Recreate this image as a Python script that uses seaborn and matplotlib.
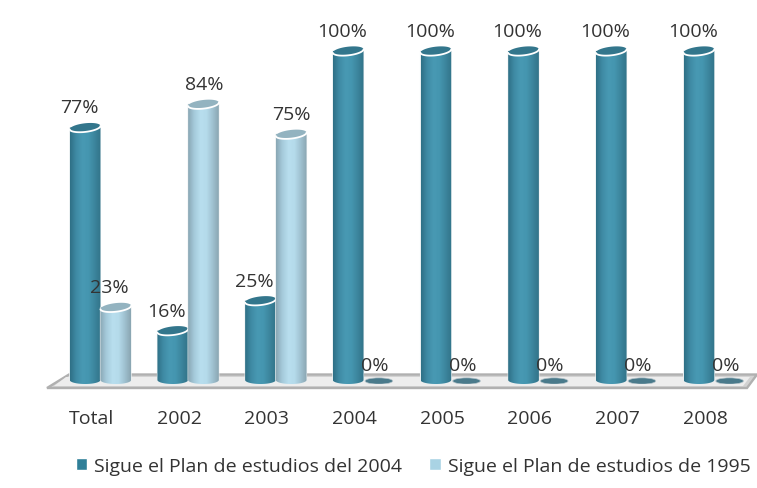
import numpy as np
import pandas as pd
import matplotlib
matplotlib.use("Agg")
import matplotlib.pyplot as plt
from matplotlib.patches import Ellipse, Patch, Polygon
from matplotlib.colors import LinearSegmentedColormap
from matplotlib.transforms import ScaledTranslation
import seaborn as sns

# Values
years = ["Total", "2002", "2003", "2004", "2005", "2006", "2007", "2008"]
plan_2004 = [77, 16, 25, 100, 100, 100, 100, 100]
plan_1995 = [23, 84, 75, 0, 0, 0, 0, 0]
name_2004 = "Sigue el Plan de estudios del 2004"
name_1995 = "Sigue el Plan de estudios de 1995"

W, H = 757, 489

sns.set_theme(style="white")
plt.rcParams["font.family"] = ["Open Sans", "DejaVu Sans"]

df = pd.DataFrame({"year": years, name_2004: plan_2004, name_1995: plan_1995})
long_df = df.melt(id_vars="year", var_name="plan", value_name="pct")

fig = plt.figure(figsize=(W / 100, H / 100), dpi=100, facecolor="white")
ax = fig.add_axes([56.6 / W, (H - 385) / H, 701.5 / W, 333 / H])
ax.patch.set_visible(False)

colors = {name_2004: "#4596b0", name_1995: "#b5dbeb"}
sns.barplot(data=long_df, x="year", y="pct", hue="plan", palette=colors,
            width=0.7, saturation=1, legend=False, ax=ax)

# Floor of the 3D chart, drawn in figure coordinates behind the axes
def fig_xy(points):
    return [(x / W, 1 - y / H) for x, y in points]

floor = Polygon(fig_xy([(47, 389), (69, 375.5), (757, 375.5), (747, 389)]),
                closed=True, transform=fig.transFigure, facecolor="#d2d2d2",
                edgecolor="#b0b0b0", linewidth=1.7, zorder=-2)
fig.add_artist(floor)
shine = Polygon(fig_xy([(54, 387), (66, 378), (750, 378), (743, 387)]),
                closed=True, transform=fig.transFigure, facecolor="#ededed",
                edgecolor="none", zorder=-1)
fig.add_artist(shine)

dark_cmap = LinearSegmentedColormap.from_list(
    "dark", ["#2f7086", "#3f8ba5", "#4899b3", "#4596b0", "#3c859d", "#327489"])
light_cmap = LinearSegmentedColormap.from_list(
    "light", ["#8aa8b5", "#a5cadb", "#b8deee", "#b5dbeb", "#a0c2d1", "#8aa6b2"])
strip = np.linspace(0, 1, 64).reshape(1, -1)

tops = {0: "#33768c", 1: "#93b3c0"}
zero_col = "#4a7a8b"
cap_h = 2.6   # top ellipse height, in axis units
tilt = 0.5    # caps lean up to the right
foot = 1.2    # how far the rounded foot rises above zero

for i, cont in enumerate(ax.containers):
    cmap = dark_cmap if i == 0 else light_cmap
    for bar in cont:
        x0 = bar.get_x()
        w = bar.get_width()
        top = bar.get_height()
        cx = x0 + w / 2
        if top == 0:
            ax.add_patch(Ellipse((cx, 0.9), w * 0.9, 1.9, facecolor=zero_col,
                                 edgecolor="#b9c6cc", linewidth=0.5, zorder=3))
        else:
            t = np.linspace(np.pi, 2 * np.pi, 40)
            arc = np.c_[cx + w / 2 * np.cos(t), foot + foot * np.sin(t)]
            outline = np.vstack([[(x0, top)], arc, [(x0 + w, top)]])
            body = Polygon(outline, closed=True, facecolor="none", clip_on=False,
                           edgecolor="#e8eef0", linewidth=0.8, zorder=3 + i)
            ax.add_patch(body)
            img = ax.imshow(strip, extent=(x0, x0 + w, 0, top), cmap=cmap,
                            aspect="auto", zorder=3 + i, origin="lower")
            img.set_clip_path(body)

            # tilted cap, with a white rim along its front edge
            t = np.linspace(0, 2 * np.pi, 80)
            cap = np.c_[cx + w / 2 * np.cos(t),
                        top + cap_h / 2 * np.sin(t) + tilt * np.cos(t)]
            ax.add_patch(Polygon(cap, closed=True, facecolor=tops[i], edgecolor="none",
                                 clip_on=False, zorder=3 + i))
            ax.plot(cap[40:, 0], cap[40:, 1], color="white", lw=1.3, clip_on=False,
                    zorder=3 + i, solid_capstyle="round")
        bar.set_visible(False)

        # Label sits a little to the left of the dark and the short bars
        dx = -6 if (i == 0 or top < 50) else 0.5
        if top == 0:
            dx = -4
        ax.annotate(f"{top:.0f}%", (cx, top), xytext=(dx * 0.72, 14.5 if top else 13.5),
                    textcoords="offset points", ha="center", va="center",
                    fontsize=14, color="#333333", zorder=10, annotation_clip=False)

ax.set_xlim(-0.5, len(years) - 0.5)
ax.set_ylim(0, 100)
ax.set_xlabel("")
ax.set_ylabel("")
ax.set_yticks([])
ax.tick_params(axis="x", length=0, pad=18, labelsize=14, labelcolor="#333333")
# category names sit left of their bars, as on the perspective floor
shift = ScaledTranslation(-9 / 100, 0, fig.dpi_scale_trans)
for lab in ax.get_xticklabels():
    lab.set_transform(lab.get_transform() + shift)
sns.despine(ax=ax, left=True, bottom=True)

handles = [Patch(facecolor="#2f7f98", label=name_2004),
           Patch(facecolor="#a9d3e4", label=name_1995)]
fig.legend(handles=handles, ncol=2, loc="center", bbox_to_anchor=(413 / W, 1 - 467 / H),
           frameon=False, fontsize=14, handlelength=0.6, handleheight=0.6,
           handletextpad=0.35, columnspacing=1.4, labelcolor="#333333",
           borderpad=0, borderaxespad=0)

fig.savefig("out.png", dpi=100)
